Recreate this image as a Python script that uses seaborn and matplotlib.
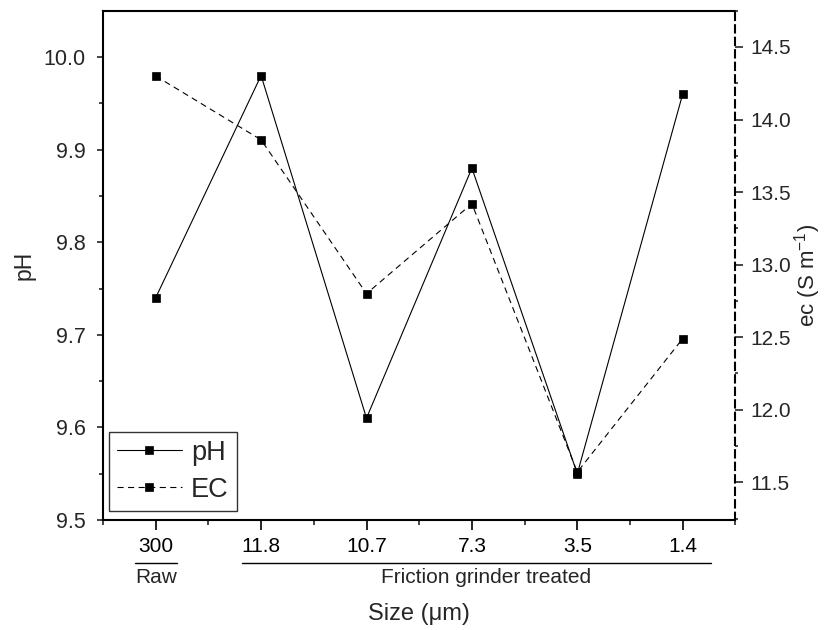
import numpy as np
import pandas as pd
import matplotlib
matplotlib.use("Agg")
import matplotlib.pyplot as plt
import matplotlib.transforms as mtransforms
import seaborn as sns

# ---- data ----
sizes = ["300", "11.8", "10.7", "7.3", "3.5", "1.4"]
ph_values = [9.74, 9.98, 9.61, 9.88, 9.55, 9.96]
ec_values = [14.30, 13.86, 12.80, 13.42, 11.57, 12.49]
group_labels = ["Raw", "Friction grinder treated"]

sns.set_theme(style="ticks")
plt.rcParams["font.family"] = ["Liberation Sans", "DejaVu Sans"]
plt.rcParams["mathtext.default"] = "regular"
plt.rcParams["axes.linewidth"] = 1.5

df = pd.DataFrame({"size": sizes, "pH": ph_values, "EC": ec_values})

fig = plt.figure(figsize=(8.26, 6.30), dpi=100)
ax = fig.add_axes([103 / 826, 1 - 520 / 630, 632.4 / 826, (520 - 10.7) / 630])
ax2 = ax.twinx()

sns.lineplot(data=df, x="size", y="pH", ax=ax, sort=False, color="black",
             linewidth=0.8, marker="s", markersize=6, markeredgecolor="black",
             markerfacecolor="black", markeredgewidth=0.5)
sns.lineplot(data=df, x="size", y="EC", ax=ax2, sort=False, color="black",
             linewidth=0.8, linestyle=(0, (5.5, 4)), marker="s", markersize=6,
             markeredgecolor="black", markerfacecolor="black", markeredgewidth=0.5)

# x axis
ax.set_xlim(-0.5, 5.5)
ax.set_xticks(range(len(sizes)))
ax.set_xticklabels(sizes)
ax.set_xticks(np.arange(-0.5, len(sizes), 1.0), minor=True)
ax.tick_params(axis="x", which="major", direction="out", length=7, width=1.2,
               labelsize=15, pad=5, colors="black")
ax.tick_params(axis="x", which="minor", direction="out", length=3.5, width=1.2)

# left axis
ax.set_ylim(9.5, 10.05)
ax.set_yticks(np.arange(9.5, 10.01, 0.1))
ax.set_yticklabels([f"{v:.1f}" for v in np.arange(9.5, 10.01, 0.1)])
ax.set_yticks(np.arange(9.55, 10.05, 0.1), minor=True)
ax.tick_params(axis="y", which="major", direction="out", length=4.5, width=1.2,
               labelsize=15.5, pad=8)
ax.tick_params(axis="y", which="minor", direction="out", length=3, width=1.2)
ax.set_ylabel("pH", fontsize=16.5)
ax.yaxis.set_label_coords(-0.106, 0.5)

# right axis
ax2.set_ylim(11.24, 14.75)
ax2.set_yticks(np.arange(11.5, 14.51, 0.5))
ax2.set_yticklabels([f"{v:.1f}" for v in np.arange(11.5, 14.51, 0.5)])
ax2.set_yticks(np.arange(11.25, 14.76, 0.5), minor=True)
ax2.tick_params(axis="y", which="major", direction="out", length=6, width=1.2,
                labelsize=15, pad=5)
ax2.tick_params(axis="y", which="minor", direction="out", length=2.5, width=1.2)
ax2.set_ylabel("ec (S m$^{-1}$)", fontsize=16)
ax2.yaxis.set_label_position("right")
ax2.yaxis.set_label_coords(1.09, 0.48)

for name in ["top", "right", "left", "bottom"]:
    ax.spines[name].set_color("black")
    ax2.spines[name].set_color("black")
ax.spines["right"].set_visible(False)
ax2.spines["left"].set_visible(False)
ax2.spines["top"].set_visible(False)
ax2.spines["bottom"].set_visible(False)
ax2.spines["right"].set_linestyle((0, (3.5, 2.5)))
ax2.spines["right"].set_linewidth(1.5)

# x label
ax.set_xlabel("Size (μm)", fontsize=17)
ax.xaxis.set_label_coords(0.5, -0.162)

# group annotations under the tick labels
trans = mtransforms.blended_transform_factory(ax.transData, fig.transFigure)
y_line = 1 - 562.7 / 630
y_text = 1 - 577.5 / 630
ax.plot([-0.2, 0.2], [y_line, y_line], transform=trans, color="black",
        linewidth=1.0, clip_on=False)
ax.text(0, y_text, group_labels[0], transform=trans, ha="center", va="center",
        fontsize=15)
ax.plot([0.82, 5.27], [y_line, y_line], transform=trans, color="black",
        linewidth=1.0, clip_on=False)
ax.text(3.13, y_text, group_labels[1], transform=trans, ha="center",
        va="center", fontsize=15)

# legend
h1 = ax.get_lines()[0]
h2 = ax2.get_lines()[0]
leg = ax2.legend([h1, h2], ["pH", "EC"], loc="lower left",
                 bbox_to_anchor=(0.009, 0.018), borderaxespad=0,
                 fontsize=19.5, handlelength=2.4, handletextpad=0.33,
                 borderpad=0.3, labelspacing=0.4, fancybox=False,
                 framealpha=1, edgecolor="#333333", numpoints=1)
leg.get_frame().set_linewidth(1.0)

fig.savefig("out.png", dpi=100)
